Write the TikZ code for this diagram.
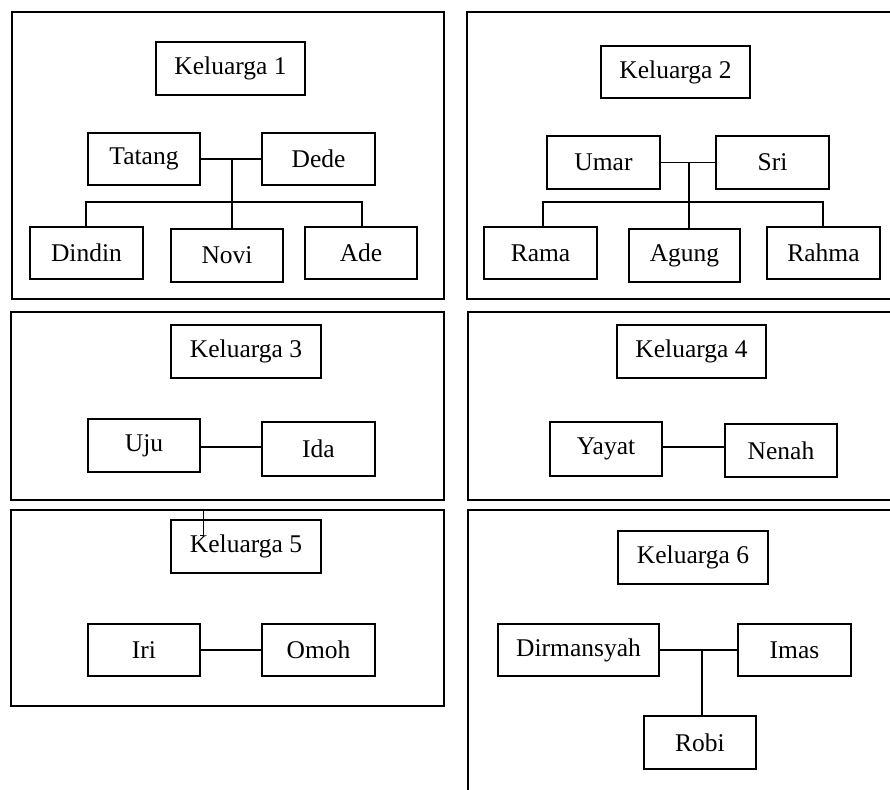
\documentclass[tikz,border=0pt]{standalone}
\usepackage{fontspec}
\setmainfont{Liberation Serif}
\begin{document}
\begin{tikzpicture}[x=1pt,y=-1pt, line width=1.1pt,
  pbox/.style={draw, line width=1.1pt, rectangle, inner sep=0pt, minimum width=112pt, minimum height=52pt, font=\fontsize{25.5}{30}\selectfont},
  tbox/.style={pbox, minimum width=149pt, minimum height=53pt},
  frame/.style={draw, line width=1.1pt}]
\useasboundingbox (0,0) rectangle (890,789);
\clip (0,0) rectangle (890,789);
% panel frames
\draw[frame] (12,12) rectangle (444,299);
\draw[frame] (900,12) -- (467,12) -- (467,299) -- (900,299);
\draw[frame] (11,312) rectangle (444,500);
\draw[frame] (900,312) -- (468,312) -- (468,500) -- (900,500);
\draw[frame] (11,510) rectangle (444,706);
\draw[frame] (900,510) -- (468,510) -- (468,800);
% Panel 1
\node[tbox] (k1) at (230.5,68.5) {Keluarga 1};
\node[pbox] (tatang) at (144,159) {Tatang};
\node[pbox, minimum width=113pt] (dede) at (318.5,159) {Dede};
\node[pbox, minimum width=113pt] (dindin) at (86.5,253) {Dindin};
\node[pbox, minimum height=53pt] (novi) at (227,255.5) {Novi};
\node[pbox] (ade) at (361,253) {Ade};
\draw (tatang.east) -- (dede.west);
\coordinate (m1) at (232,159);
\draw (m1) -- (m1 |- novi.north);
\coordinate (b1l) at (86,202);
\coordinate (b1r) at (362,202);
\draw (b1l |- dindin.north) -- (b1l) -- (b1r) -- (b1r |- ade.north);
% Panel 2
\node[tbox, minimum height=52pt] (k2) at (675.5,72) {Keluarga 2};
\node[pbox, minimum width=113pt, minimum height=53pt] (umar) at (603.5,162.5) {Umar};
\node[pbox, minimum width=113pt, minimum height=53pt] (sri) at (772.5,162.5) {Sri};
\node[pbox, minimum width=113pt] (rama) at (540.5,253) {Rama};
\node[pbox, minimum width=111pt, minimum height=53pt] (agung) at (684.5,255.5) {Agung};
\node[pbox, minimum width=113pt] (rahma) at (823.5,253) {Rahma};
\draw (umar.east) -- (sri.west);
\coordinate (m2) at (689,162.5);
\draw (m2) -- (m2 |- agung.north);
\coordinate (b2l) at (543,202);
\coordinate (b2r) at (823,202);
\draw (b2l |- rama.north) -- (b2l) -- (b2r) -- (b2r |- rahma.north);
% Panel 3
\node[tbox, minimum width=150pt] (k3) at (246,351.5) {Keluarga 3};
\node[pbox, minimum height=53pt] (uju) at (144,445.5) {Uju};
\node[pbox, minimum width=113pt, minimum height=54pt] (ida) at (318.5,449) {Ida};
\draw (uju.east |- 0,447) -- (ida.west |- 0,447);
% Panel 4
\node[tbox] (k4) at (691.5,351.5) {Keluarga 4};
\node[pbox, minimum height=54pt] (yayat) at (606,449) {Yayat};
\node[pbox, minimum height=53pt] (nenah) at (781,450.5) {Nenah};
\draw (yayat.east |- 0,447) -- (nenah.west |- 0,447);
% Panel 5
\node[tbox, minimum width=150pt] (k5) at (246,546.5) {Keluarga 5};
\node[pbox] (iri) at (144,650) {Iri};
\node[pbox, minimum width=113pt] (omoh) at (318.5,650) {Omoh};
\draw (iri.east) -- (omoh.west);
\coordinate (s5a) at (203,510);
\coordinate (s5b) at (203,535);
\coordinate (s5c) at (200,535);
\draw[line width=0.8pt] (s5a) -- (s5b) -- (s5c);
% Panel 6
\node[tbox, minimum width=150pt] (k6) at (693,557.5) {Keluarga 6};
\node[pbox, minimum width=161pt] (dirm) at (578.5,650) {Dirmansyah};
\node[pbox, minimum width=113pt] (imas) at (794.5,650) {Imas};
\node[pbox, minimum height=53pt] (robi) at (700,742.5) {Robi};
\draw (dirm.east) -- (imas.west);
\coordinate (m6) at (702,650);
\draw (m6) -- (m6 |- robi.north);
\end{tikzpicture}
\end{document}
